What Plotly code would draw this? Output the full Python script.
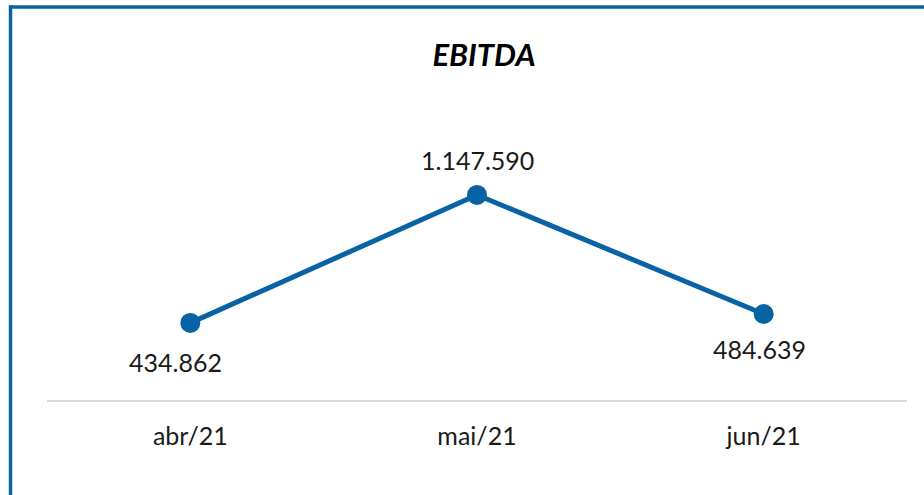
import plotly.graph_objects as go

W, H = 924, 495

categories = ["abr/21", "mai/21", "jun/21"]
values = [434862, 1147590, 484639]
title_text = "EBITDA"

BLUE = "#0763a3"
FONT = "Lato, Open Sans, sans-serif"

def fmt(v):
    return f"{v:,}".replace(",", ".")

def px_x(p):
    return p / W

def px_y(p):
    return 1 - p / H

fig = go.Figure()
fig.add_trace(go.Scatter(
    x=categories, y=values, mode="lines+markers",
    line=dict(color=BLUE, width=5),
    marker=dict(color=BLUE, size=20),
    hoverinfo="skip", showlegend=False,
))

shifts = [(-15, -39), (0, 35), (-4, -35)]
for c, v, (dx, dy) in zip(categories, values, shifts):
    fig.add_annotation(x=c, y=v, text=fmt(v), showarrow=False,
                       xshift=dx, yshift=dy,
                       font=dict(family=FONT, size=25, color="#1a1a1a"))

fig.update_layout(
    width=W, height=H,
    margin=dict(l=0, r=0, t=0, b=0),
    paper_bgcolor="white", plot_bgcolor="white",
    title=dict(text=f"<b><i>{title_text}</i></b>", x=px_x(484), xanchor="center",
               y=px_y(55), yanchor="middle",
               font=dict(family=FONT, size=31, color="black")),
    xaxis=dict(domain=[px_x(47), px_x(907)], range=[-0.5, 2.5],
               showgrid=False, zeroline=False, showline=False,
               tickfont=dict(family=FONT, size=25, color="#1a1a1a"),
               ticks="", ticklabelstandoff=18, fixedrange=True),
    yaxis=dict(domain=[px_y(401), px_y(100)], range=[0, 1676000],
               showgrid=False, zeroline=True, zerolinecolor="#d9d9d9", zerolinewidth=2,
               showticklabels=False, showline=False, fixedrange=True),
    shapes=[
        dict(type="line", xref="paper", yref="paper", x0=px_x(10.5), x1=px_x(10.5),
             y0=px_y(5.5), y1=-0.1, line=dict(color=BLUE, width=3.5)),
        dict(type="line", xref="paper", yref="paper", x0=px_x(9), x1=1.1,
             y0=px_y(7), y1=px_y(7), line=dict(color=BLUE, width=3.5)),
        dict(type="line", xref="paper", yref="paper", x0=px_x(8.5), x1=px_x(8.5),
             y0=px_y(9), y1=-0.1, line=dict(color="#d8d8d8", width=1)),
    ],
)

fig.write_html("out.html", config={"displayModeBar": False},
               post_script="document.body.style.margin='0px';")
